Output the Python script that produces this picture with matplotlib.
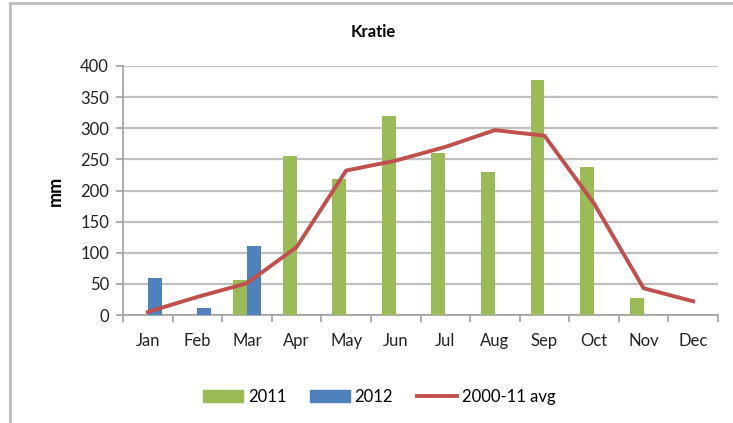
import matplotlib
matplotlib.use("Agg")
import matplotlib.pyplot as plt
import numpy as np
from matplotlib.lines import Line2D
from matplotlib.patches import Rectangle

months = ["Jan", "Feb", "Mar", "Apr", "May", "Jun", "Jul", "Aug", "Sep", "Oct", "Nov", "Dec"]
rain_2011 = [0, 0, 57, 255, 218, 320, 260, 229, 378, 238, 27, 0]
rain_2012 = [60, 12, 111, 0, 0, 0, 0, 0, 0, 0, 0, 0]
avg_2000_11 = [5, 29, 51, 109, 232, 248, 270, 297, 288, 179, 43, 22]
yticks = [0, 50, 100, 150, 200, 250, 300, 350, 400]

plt.rcParams['font.family'] = ['Lato', 'DejaVu Sans']

fig = plt.figure(figsize=(7.33, 4.23), dpi=100)
ax = fig.add_axes([123/733, 1 - 315/423, 595/733, 249/423])

x = np.arange(len(months))
w = 0.28
green = "#9BBB59"
blue = "#4F81BD"
red = "#C0504D"

ax.bar(x - w/2, rain_2011, width=w, color=green, zorder=3)
ax.bar(x + w/2, rain_2012, width=w, color=blue, zorder=3)
ax.plot(x, avg_2000_11, color=red, lw=2.8, zorder=4, solid_joinstyle='round')

ax.set_xlim(-0.5, 11.5)
ax.set_ylim(0, 400)
ax.set_yticks(yticks)
ax.set_yticklabels([str(v) for v in yticks], fontsize=12, color="#222222")
ax.set_xticks(x)
ax.set_xticklabels(months, fontsize=12, color="#222222")
ax.tick_params(axis='x', length=0, pad=13)
ax.tick_params(axis='y', length=5, width=1.2, color="#A0A0A0", pad=5)
ax.set_xticks(np.arange(-0.5, 12, 1), minor=True)
ax.tick_params(axis='x', which='minor', length=5, width=1.2, color="#A0A0A0")

ax.grid(axis='y', color="#BFBFBF", lw=1.6, zorder=0)
ax.set_axisbelow(True)
for s in ['top', 'right']:
    ax.spines[s].set_visible(False)
ax.spines['left'].set_color("#A0A0A0")
ax.spines['left'].set_linewidth(1.2)
ax.spines['bottom'].set_color("#A0A0A0")
ax.spines['bottom'].set_linewidth(1.2)

ax.set_ylabel("mm", fontsize=13, fontweight='bold', labelpad=12)
fig.text(373/733, 1 - 32/423, "Kratie", ha='center', va='center', fontsize=12, fontweight='bold')

handles = [Rectangle((0, 0), 1, 1, color=green),
           Rectangle((0, 0), 1, 1, color=blue),
           Line2D([0], [0], color=red, lw=2.8)]
fig.legend(handles, ["2011", "2012", "2000-11 avg"], loc='center',
           bbox_to_anchor=(379/733, 1 - 397/423), ncol=3, frameon=False,
           fontsize=12, handlelength=2.4, handleheight=0.7, columnspacing=1.4,
           handletextpad=0.3)

fig.add_artist(Line2D([10/733, 1], [1 - 3/423, 1 - 3/423], transform=fig.transFigure, color="#BDBDBD", lw=2))
fig.add_artist(Line2D([10/733, 10/733], [0, 1 - 3/423], transform=fig.transFigure, color="#BDBDBD", lw=2))

fig.savefig("out.png", dpi=100)
